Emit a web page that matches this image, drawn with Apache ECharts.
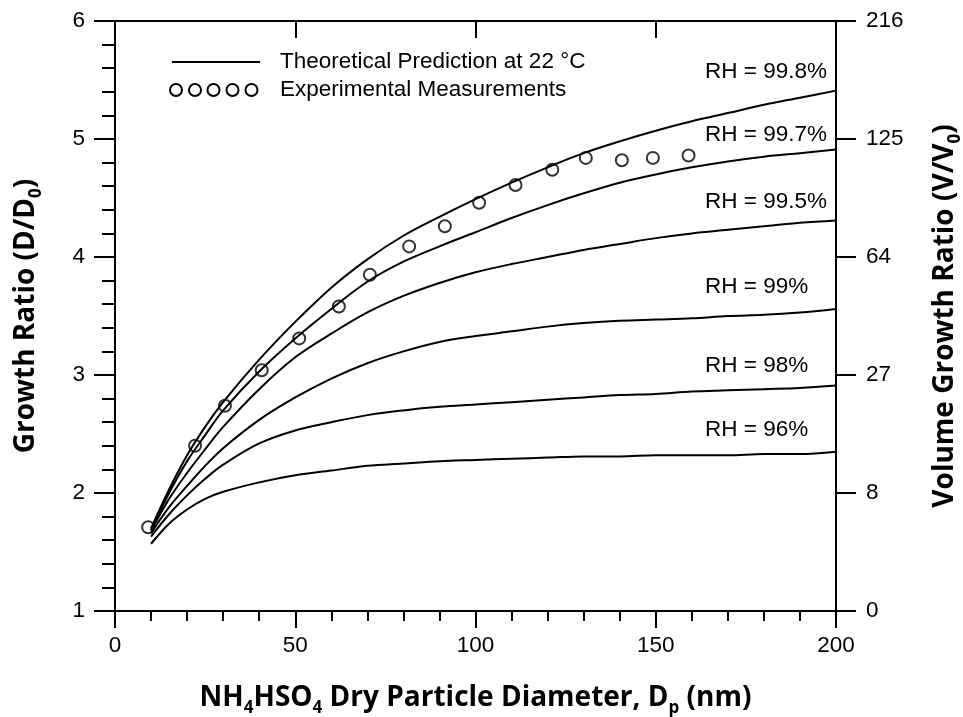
<!DOCTYPE html>
<html>
<head>
<meta charset="utf-8">
<script src="https://cdn.jsdelivr.net/npm/echarts@6/dist/echarts.min.js"></script>
<style>
html, body { margin: 0; padding: 0; background: #fff; }
#main { width: 963px; height: 717px; }
</style>
</head>
<body>
<div id="main"></div>
<script>
// dry diameter grid for the theoretical curves (nm)
var dp = [10, 15, 20, 25, 30, 40, 50, 60, 70, 80, 90, 100, 110, 120, 130, 140, 150, 160, 170, 180, 190, 200];
// growth ratio D/D0 for each RH
var rh998 = [1.70, 2.03, 2.32, 2.56, 2.77, 3.13, 3.45, 3.74, 3.98, 4.18, 4.34, 4.49, 4.63, 4.76, 4.88, 4.98, 5.07, 5.15, 5.22, 5.29, 5.35, 5.41];
var rh997 = [1.69, 2.00, 2.27, 2.49, 2.70, 3.03, 3.31, 3.56, 3.79, 3.96, 4.09, 4.21, 4.33, 4.44, 4.54, 4.63, 4.70, 4.76, 4.81, 4.85, 4.88, 4.91];
var rh995 = [1.68, 1.95, 2.17, 2.37, 2.56, 2.88, 3.15, 3.35, 3.53, 3.67, 3.78, 3.87, 3.94, 4.00, 4.06, 4.11, 4.16, 4.20, 4.23, 4.26, 4.29, 4.31];
var rh99 = [1.66, 1.88, 2.06, 2.23, 2.38, 2.62, 2.81, 2.97, 3.10, 3.20, 3.28, 3.33, 3.37, 3.41, 3.44, 3.46, 3.47, 3.48, 3.50, 3.51, 3.53, 3.56];
var rh98 = [1.63, 1.82, 1.98, 2.12, 2.24, 2.42, 2.53, 2.60, 2.66, 2.70, 2.73, 2.75, 2.77, 2.79, 2.81, 2.83, 2.84, 2.86, 2.87, 2.88, 2.89, 2.91];
var rh96 = [1.57, 1.74, 1.86, 1.95, 2.01, 2.09, 2.15, 2.19, 2.23, 2.25, 2.27, 2.28, 2.29, 2.30, 2.31, 2.31, 2.32, 2.32, 2.32, 2.33, 2.33, 2.35];
var rhNames = ['RH = 99.8%', 'RH = 99.7%', 'RH = 99.5%', 'RH = 99%', 'RH = 98%', 'RH = 96%'];

// experimental measurements
var expDp = [9.2, 22.2, 30.5, 40.7, 51.1, 62.1, 70.7, 81.6, 91.5, 101.0, 111.1, 121.3, 130.6, 140.6, 149.2, 159.1];
var expGr = [1.71, 2.40, 2.74, 3.04, 3.31, 3.58, 3.85, 4.09, 4.26, 4.46, 4.61, 4.74, 4.84, 4.82, 4.84, 4.86];

// right axis labels (volume ratio) at D/D0 = 1..6
var volTicks = ['0', '8', '27', '64', '125', '216'];

var chart = echarts.init(document.getElementById('main'));

var tickFont = 'Liberation Sans, Arial, sans-serif';
var titleFont = 'Open Sans, sans-serif';

function zip(xs, ys) {
  return xs.map(function (x, i) { return [x, ys[i]]; });
}

var titleRich = {
  b: { fontFamily: titleFont, fontWeight: 'bold', fontSize: 28, color: '#000', lineHeight: 38 },
  s: { fontFamily: titleFont, fontWeight: 'bold', fontSize: 17, color: '#000', lineHeight: 18, verticalAlign: 'bottom' }
};

var curves = [rh998, rh997, rh995, rh99, rh98, rh96];
var series = curves.map(function (c, i) {
  return {
    name: rhNames[i],
    type: 'line',
    data: zip(dp, c),
    smooth: 0.35,
    showSymbol: false,
    lineStyle: { color: '#000', width: 2 },
    silent: true,
    z: 2
  };
});
series.push({
  name: 'Experimental Measurements',
  type: 'scatter',
  data: zip(expDp, expGr),
  symbol: 'circle',
  symbolSize: 12,
  itemStyle: { color: 'rgba(0,0,0,0)', borderColor: '#000', borderWidth: 2 },
  z: 3
});

// RH labels, left aligned near the right edge
var labelY = [72, 135, 202, 287, 366, 430];
var graphics = rhNames.map(function (t, i) {
  return {
    type: 'text', left: 705, top: labelY[i] - 12,
    style: { text: t, font: '22.5px ' + tickFont, fill: '#000' }
  };
});
// legend
graphics.push({ type: 'line', shape: { x1: 172, y1: 62, x2: 260, y2: 62 }, style: { stroke: '#000', lineWidth: 2 } });
graphics.push({ type: 'text', left: 280, top: 50, style: { text: 'Theoretical Prediction at 22 °C', font: '22.5px ' + tickFont, fill: '#000' } });
[176, 195, 213.5, 232.5, 251.5].forEach(function (cx) {
  graphics.push({ type: 'circle', shape: { cx: cx, cy: 90, r: 6 }, style: { fill: 'none', stroke: '#000', lineWidth: 2 } });
});
graphics.push({ type: 'text', left: 280, top: 78, style: { text: 'Experimental Measurements', font: '22.5px ' + tickFont, fill: '#000' } });

var blackLine = { color: '#000', width: 2 };

var option = {
  backgroundColor: '#fff',
  animation: false,
  grid: { left: 115, right: 127, top: 21, bottom: 106, containLabel: false, outerBoundsMode: 'none' },
  xAxis: [
    {
      type: 'value', min: 0, max: 200, interval: 50, position: 'bottom',
      name: '{b|NH}{s|4}{b|HSO}{s|4}{b| Dry Particle Diameter, D}{s|p}{b| (nm)}',
      nameLocation: 'middle', nameGap: 68,
      nameTextStyle: { rich: titleRich },
      axisLine: { show: true, onZero: false, lineStyle: blackLine },
      axisTick: { show: true, inside: false, length: 17, lineStyle: blackLine },
      minorTick: { show: true, splitNumber: 5, length: 10, lineStyle: blackLine },
      axisLabel: { color: '#000', fontSize: 22.5, fontFamily: tickFont, margin: 23 },
      splitLine: { show: false }
    },
    {
      type: 'value', min: 0, max: 200, interval: 50, position: 'top',
      axisLine: { show: true, onZero: false, lineStyle: blackLine },
      axisTick: { show: true, inside: true, length: 17, lineStyle: blackLine },
      axisLabel: { show: false },
      splitLine: { show: false }
    }
  ],
  yAxis: [
    {
      type: 'value', min: 1, max: 6, interval: 1, position: 'left',
      name: '{b|Growth Ratio (D/D}{s|0}{b|)}',
      nameLocation: 'middle', nameGap: 70,
      nameTextStyle: { rich: titleRich },
      axisLine: { show: true, onZero: false, lineStyle: blackLine },
      axisTick: { show: true, inside: false, length: 21, lineStyle: blackLine },
      minorTick: { show: true, splitNumber: 5, length: 13, lineStyle: blackLine },
      axisLabel: { color: '#000', fontSize: 22.5, fontFamily: tickFont, margin: 30 },
      splitLine: { show: false }
    },
    {
      type: 'value', min: 1, max: 6, interval: 1, position: 'right',
      name: '{b|Volume Growth Ratio (V/V}{s|0}{b|)}',
      nameLocation: 'middle', nameGap: 90, nameRotate: 90,
      nameTextStyle: { rich: titleRich },
      axisLine: { show: true, onZero: false, lineStyle: blackLine },
      axisTick: { show: true, inside: false, length: 20, lineStyle: blackLine },
      axisLabel: {
        color: '#000', fontSize: 22.5, fontFamily: tickFont, margin: 30,
        formatter: function (v) { return volTicks[Math.round(v) - 1]; }
      },
      splitLine: { show: false }
    }
  ],
  graphic: graphics,
  series: series
};

chart.setOption(option);
</script>
</body>
</html>
